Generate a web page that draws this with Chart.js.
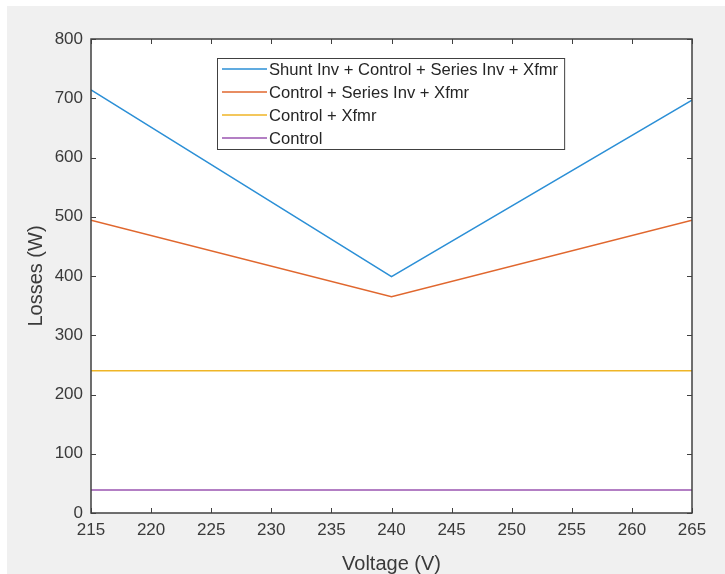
<!DOCTYPE html>
<html>
<head>
<meta charset="utf-8">
<script src="https://cdn.jsdelivr.net/npm/chart.js@4/dist/chart.umd.min.js"></script>
<style>
  html, body { margin: 0; padding: 0; background: #ffffff; }
  #wrap { position: absolute; left: 7px; top: 6px; width: 718px; height: 568px; background: #f0f0f0; }
  canvas { display: block; }
</style>
</head>
<body>
<div id="wrap"><canvas id="lossChart" width="718" height="568"></canvas></div>
<script>
// voltages at which losses were computed
var voltages = [215, 240, 265];

var seriesNames = [
    'Shunt Inv + Control + Series Inv + Xfmr',
    'Control + Series Inv + Xfmr',
    'Control + Xfmr',
    'Control'
];
var shuntTotal = [714, 399, 697];
var seriesTotal = [494, 365, 494];
var ctrlXfmr = [240, 240, 240];
var ctrlOnly = [39, 39, 39];

var xTicks = [215, 220, 225, 230, 235, 240, 245, 250, 255, 260, 265];
var yTicks = [0, 100, 200, 300, 400, 500, 600, 700, 800];

var lineColors = ['#2b8fd6', '#e0672e', '#efb526', '#9a55b0'];
var axisColor = '#404040';
var textColor = '#3a3a3a';

function pts(vals) {
    return vals.map(function(v, i) { return { x: voltages[i], y: v }; });
}

// matlab-ish box: white axes, inward ticks on all 4 sides + the framed legend
var matlabBox = {
    id: 'matlabBox',
    beforeDatasetsDraw: function(chart) {
        var c = chart.ctx, a = chart.chartArea;
        c.save();
        c.fillStyle = '#ffffff';
        c.fillRect(a.left, a.top, a.right - a.left, a.bottom - a.top);
        c.restore();
    },
    afterDatasetsDraw: function(chart) {
        var c = chart.ctx, a = chart.chartArea;
        var xs = chart.scales.x, ys = chart.scales.y;
        var tl = 5;
        c.save();
        c.strokeStyle = axisColor;
        c.lineWidth = 1;
        c.beginPath();
        xTicks.forEach(function(t) {
            var px = Math.round(xs.getPixelForValue(t)) + 0.5;
            c.moveTo(px, a.bottom); c.lineTo(px, a.bottom - tl);
            c.moveTo(px, a.top); c.lineTo(px, a.top + tl);
        });
        yTicks.forEach(function(t) {
            var py = Math.round(ys.getPixelForValue(t)) + 0.5;
            c.moveTo(a.left, py); c.lineTo(a.left + tl, py);
            c.moveTo(a.right, py); c.lineTo(a.right - tl, py);
        });
        c.stroke();
        c.lineWidth = 1.5;
        c.strokeRect(a.left, a.top, a.right - a.left, a.bottom - a.top);

        // legend
        var ds = chart.data.datasets;
        var bx = 210, by = 52, rowH = 23, sample = 45;
        c.font = '16.6px "Liberation Sans", Arial, sans-serif';
        var maxW = 0;
        ds.forEach(function(d) { maxW = Math.max(maxW, c.measureText(d.label).width); });
        var bw = 5 + sample + 2 + maxW + 6;
        var bh = 11 * 2 + rowH * (ds.length - 1);
        c.fillStyle = '#ffffff';
        c.fillRect(bx, by, bw, bh);
        c.lineWidth = 1;
        c.strokeStyle = axisColor;
        c.strokeRect(bx + 0.5, by + 0.5, bw, bh);
        c.textBaseline = 'middle';
        c.textAlign = 'left';
        ds.forEach(function(d, i) {
            var ry = by + 11 + i * rowH;
            c.strokeStyle = d.borderColor;
            c.lineWidth = 1.5;
            c.beginPath();
            c.moveTo(bx + 5, ry); c.lineTo(bx + 5 + sample, ry);
            c.stroke();
            c.fillStyle = '#262626';
            c.fillText(d.label, bx + 5 + sample + 2, ry + 1);
        });
        c.restore();
    }
};

document.addEventListener('DOMContentLoaded', function() {
    var allSeries = [shuntTotal, seriesTotal, ctrlXfmr, ctrlOnly];
    var ctx = document.getElementById('lossChart').getContext('2d');
    window.lossChart = new Chart(ctx, {
        type: 'line',
        data: {
            datasets: allSeries.map(function(s, i) {
                return { label: seriesNames[i], data: pts(s), borderColor: lineColors[i], backgroundColor: lineColors[i],
                         borderWidth: 1.5, pointRadius: 0, tension: 0, fill: false };
            })
        },
        options: {
            responsive: false,
            animation: false,
            layout: { padding: { left: 0, top: 33, right: 33, bottom: -2 }, autoPadding: false },
            plugins: { legend: { display: false }, tooltip: { enabled: false } },
            scales: {
                x: {
                    type: 'linear', min: 215, max: 265,
                    afterBuildTicks: function(s) { s.ticks = xTicks.map(function(v) { return { value: v }; }); },
                    afterFit: function(s) { s.height = 63; },
                    grid: { drawOnChartArea: false, drawTicks: false },
                    border: { display: false },
                    ticks: { color: textColor, padding: 7, maxRotation: 0, font: { family: '"Liberation Sans", Arial, sans-serif', size: 17 } },
                    title: { display: true, text: 'Voltage (V)', color: textColor, padding: { top: 0, bottom: 0 },
                             font: { family: '"Liberation Sans", Arial, sans-serif', size: 20 } }
                },
                y: {
                    min: 0, max: 800,
                    afterBuildTicks: function(s) { s.ticks = yTicks.map(function(v) { return { value: v }; }); },
                    afterFit: function(s) { s.width = 84; },
                    grid: { drawOnChartArea: false, drawTicks: false },
                    border: { display: false },
                    ticks: { color: textColor, padding: 8, font: { family: '"Liberation Sans", Arial, sans-serif', size: 17 } },
                    title: { display: true, text: 'Losses (W)', color: textColor, padding: { top: 17, bottom: 0 },
                             font: { family: '"Liberation Sans", Arial, sans-serif', size: 20 } }
                }
            }
        },
        plugins: [matlabBox]
    });
});
</script>
</body>
</html>
